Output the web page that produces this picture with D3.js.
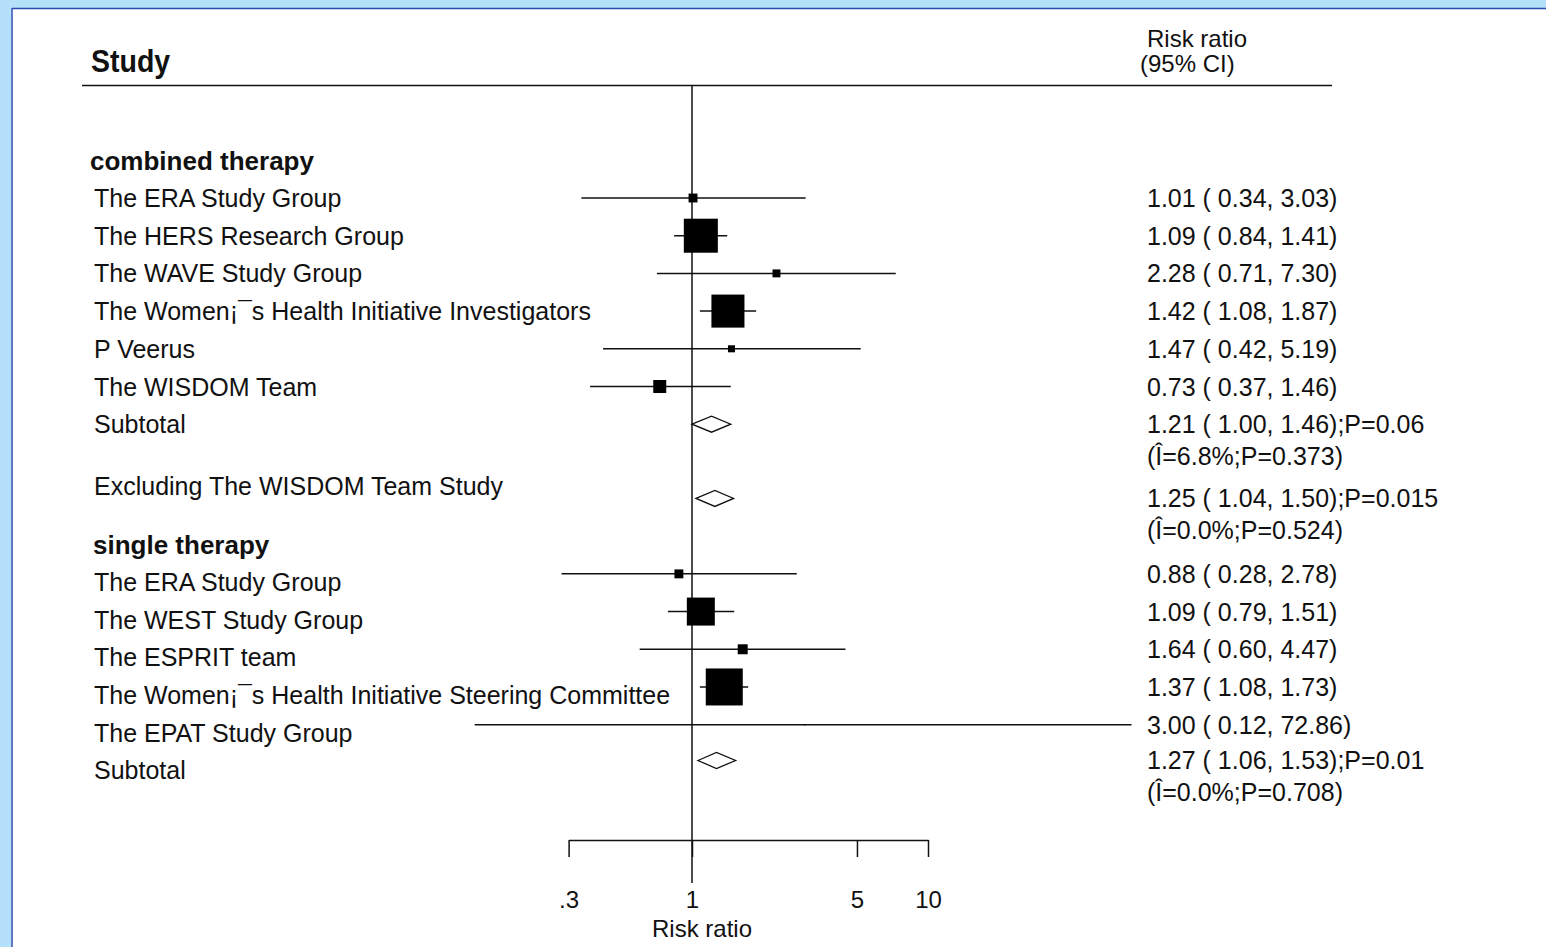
<!DOCTYPE html>
<html>
<head>
<meta charset="utf-8">
<script src="https://cdn.jsdelivr.net/npm/d3@7"></script>
<style>
  body { margin: 0; background: #fff; }
  svg text { font-family: "Liberation Sans", Arial, Helvetica, sans-serif; fill: #111; }
</style>
</head>
<body>
<svg id="chart" width="1546" height="947"></svg>
<script>
'use strict';

// ---- data ----
var groups = ['combined therapy', 'single therapy'];

var combinedStudies = ['The ERA Study Group', 'The HERS Research Group', 'The WAVE Study Group',
  'The Women\u00a1\u00afs Health Initiative Investigators', 'P Veerus', 'The WISDOM Team'];
var combinedRR = [1.01, 1.09, 2.28, 1.42, 1.47, 0.73];
var combinedLo = [0.34, 0.84, 0.71, 1.08, 0.42, 0.37];
var combinedHi = [3.03, 1.41, 7.30, 1.87, 5.19, 1.46];
var combinedWeight = [2.4, 35, 1.9, 33, 1.5, 5.1];

var singleStudies = ['The ERA Study Group', 'The WEST Study Group', 'The ESPRIT team',
  'The Women\u00a1\u00afs Health Initiative Steering Committee', 'The EPAT Study Group'];
var singleRR = [0.88, 1.09, 1.64, 1.37, 3.00];
var singleLo = [0.28, 0.79, 0.60, 1.08, 0.12];
var singleHi = [2.78, 1.51, 4.47, 1.73, 72.86];
var singleWeight = [2.4, 23.7, 3.0, 41.4, 0.05];

// pooled estimates: [rr, lo, hi, p, I2, pHet]
var combinedPooled = [1.21, 1.00, 1.46, '0.06', '6.8', '0.373'];
var excludingPooled = [1.25, 1.04, 1.50, '0.015', '0.0', '0.524'];
var singlePooled = [1.27, 1.06, 1.53, '0.01', '0.0', '0.708'];

var tickValues = [0.3, 1, 5, 10];
var tickLabels = ['.3', '1', '5', '10'];

// ---- layout ----
var svg = d3.select('#chart');

var x = d3.scaleLog()
  .domain([0.3, 10])
  .range([692 + 236 * Math.log10(0.3), 928]);

// row index -> pixel
var y = d3.scaleLinear().domain([0, 1]).range([198, 235.7]);

var size = d3.scaleSqrt().domain([0, 41.4]).range([0, 37]);

var fmt = d3.format('.2f');
var ciText = function (rr, lo, hi) {
  return fmt(rr) + ' ( ' + fmt(lo) + ', ' + fmt(hi) + ')';
};

// window frame
svg.append('rect').attr('x', 0).attr('y', 0).attr('width', 1546).attr('height', 8).attr('fill', '#b4e0fa');
svg.append('rect').attr('x', 0).attr('y', 0).attr('width', 11).attr('height', 947).attr('fill', '#b4e0fa');
svg.append('line').attr('x1', 12).attr('x2', 1546).attr('y1', 8.5).attr('y2', 8.5)
  .attr('stroke', '#2a4cb0').attr('stroke-width', 1.5);
svg.append('line').attr('x1', 12).attr('x2', 12).attr('y1', 8).attr('y2', 947)
  .attr('stroke', '#2a4cb0').attr('stroke-width', 1.5);

// header
svg.append('text').attr('x', 91).attr('y', 72).attr('font-size', 31).attr('font-weight', 'bold')
  .attr('transform', 'translate(91,0) scale(0.92,1) translate(-91,0)')
  .text('Study');
svg.append('text').attr('x', 1147).attr('y', 47).attr('font-size', 24).text('Risk ratio');
svg.append('text').attr('x', 1140).attr('y', 72).attr('font-size', 24).text('(95% CI)');
svg.append('line').attr('x1', 82).attr('x2', 1332).attr('y1', 85.5).attr('y2', 85.5)
  .attr('stroke', '#111').attr('stroke-width', 1.5);

// null line
svg.append('line').attr('x1', x(1)).attr('x2', x(1)).attr('y1', 86).attr('y2', 883)
  .attr('stroke', '#111').attr('stroke-width', 1.5);

// axis
var axis = d3.axisBottom(x)
  .tickValues(tickValues)
  .tickFormat(function (d, i) { return tickLabels[i]; })
  .tickSize(17)
  .tickSizeOuter(0)
  .tickPadding(34);
var gAxis = svg.append('g').attr('transform', 'translate(0,840)').call(axis);
gAxis.selectAll('path, line').attr('stroke', '#111').attr('stroke-width', 1.5);
gAxis.selectAll('text').attr('font-size', 24).attr('fill', '#111')
  .attr('font-family', '"Liberation Sans", Arial, sans-serif');
svg.append('text').attr('x', 702).attr('y', 937).attr('text-anchor', 'middle')
  .attr('font-size', 24).text('Risk ratio');

var textRow = function (str, px, py, opts) {
  opts = opts || {};
  svg.append('text').attr('x', px).attr('y', py).attr('dy', '0.36em')
    .attr('font-size', opts.size || 25)
    .attr('font-weight', opts.bold ? 'bold' : null)
    .text(str);
};

var drawStudies = function (names, rr, lo, hi, w, row0, labelShift) {
  names.forEach(function (name, i) {
    var cy = y(row0 + i);
    svg.append('line').attr('x1', x(lo[i])).attr('x2', x(hi[i])).attr('y1', cy).attr('y2', cy)
      .attr('stroke', '#111').attr('stroke-width', 1.5);
    var s = size(w[i]);
    svg.append('rect').attr('x', x(rr[i]) - s / 2).attr('y', cy - s / 2)
      .attr('width', s).attr('height', s).attr('fill', '#000');
    textRow(name, 94, cy + labelShift);
    textRow(ciText(rr[i], lo[i], hi[i]), 1147, cy);
  });
};

var drawPooled = function (p, row, label, labelShift) {
  var cy = y(row);
  var pts = [[x(p[1]), cy], [x(p[0]), cy - 8], [x(p[2]), cy], [x(p[0]), cy + 8]];
  svg.append('path').attr('d', d3.line()(pts) + 'Z')
    .attr('fill', '#fff').attr('stroke', '#111').attr('stroke-width', 1.3);
  textRow(label, 94, cy + labelShift);
  textRow(ciText(p[0], p[1], p[2]) + ';P=' + p[3], 1147, cy);
  textRow('(\u00ce=' + p[4] + '%;P=' + p[5] + ')', 1147, cy + 32);
};

// combined therapy
textRow(groups[0], 90, y(-1), { bold: true, size: 26 });
drawStudies(combinedStudies, combinedRR, combinedLo, combinedHi, combinedWeight, 0, 0);
drawPooled(combinedPooled, 6, 'Subtotal', 0);
drawPooled(excludingPooled, 7.97, 'Excluding The WISDOM Team Study', -12);

// single therapy
textRow(groups[1], 93, y(9.2), { bold: true, size: 26 });
drawStudies(singleStudies, singleRR, singleLo, singleHi, singleWeight, 9.97, 8);
drawPooled(singlePooled, 14.92, 'Subtotal', 10);
</script>
</body>
</html>
